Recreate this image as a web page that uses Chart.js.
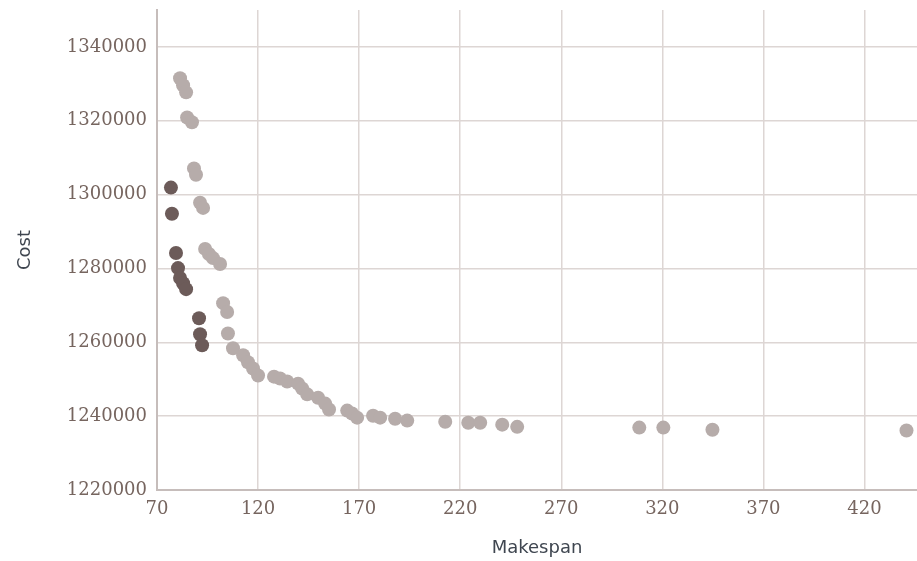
<!DOCTYPE html>
<html>
<head>
<meta charset="utf-8">
<script src="https://cdn.jsdelivr.net/npm/chart.js@4/dist/chart.umd.min.js"></script>
<style>
  html, body { margin: 0; padding: 0; background: #fff; }
  #wrap { width: 917px; height: 561px; }
</style>
</head>
<body>
<div id="wrap"><canvas id="paretoChart"></canvas></div>
<script>
// dark series
var makespanA = [76.9, 77.4, 79.4, 80.4, 81.4, 82.9, 84.4, 90.8, 91.3, 92.3];
var costA = [1301900, 1294800, 1284200, 1280100, 1277400, 1276000, 1274400, 1266500, 1262200, 1259200];

// light series
var makespanB = [81.4, 82.9, 84.4, 84.9, 87.3, 88.3, 89.3, 91.3, 92.8, 93.8, 95.7, 97.7, 101.2,
    102.7, 104.7, 105.1, 107.6, 112.6, 115.0, 117.5, 120.0, 127.9, 130.9, 134.4, 139.8, 141.8,
    144.3, 149.7, 153.2, 155.1, 164.1, 166.5, 169.0, 176.9, 180.4, 187.8, 193.8, 212.6, 224.0,
    229.9, 240.8, 248.2, 308.6, 320.5, 344.8, 440.8];
var costB = [1331500, 1329600, 1327700, 1320900, 1319600, 1307100, 1305400, 1297800, 1296400,
    1285300, 1283900, 1282800, 1281200, 1270600, 1268200, 1262400, 1258400, 1256500, 1254600,
    1252900, 1251000, 1250700, 1250200, 1249400, 1248800, 1247500, 1245900, 1245000, 1243400,
    1241800, 1241500, 1240700, 1239600, 1240100, 1239600, 1239300, 1238800, 1238500, 1238200,
    1238200, 1237700, 1237100, 1236900, 1236900, 1236300, 1236100];

var xTicks = [70, 120, 170, 220, 270, 320, 370, 420];
var yTicks = [1220000, 1240000, 1260000, 1280000, 1300000, 1320000, 1340000];

function toPoints(xs, ys) {
    var pts = [];
    for (var i = 0; i < xs.length; i++) {
        pts.push({ x: xs[i], y: ys[i] });
    }
    return pts;
}

var tickFont = { family: 'DejaVu Serif', size: 18 };
var titleFont = { family: 'DejaVu Sans', size: 18 };

var ctx = document.getElementById('paretoChart').getContext('2d');
new Chart(ctx, {
    type: 'scatter',
    data: {
        datasets: [
            {
                label: 'Light',
                data: toPoints(makespanB, costB),
                backgroundColor: '#b6acaa',
                borderWidth: 0,
                pointRadius: 7,
                pointHoverRadius: 7
            },
            {
                label: 'Dark',
                data: toPoints(makespanA, costA),
                backgroundColor: '#6c5b59',
                borderWidth: 0,
                pointRadius: 7,
                pointHoverRadius: 7
            }
        ]
    },
    options: {
        responsive: true,
        maintainAspectRatio: false,
        animation: false,
        layout: { autoPadding: false, padding: { top: 10, right: 0, left: 0, bottom: 0 } },
        plugins: {
            legend: { display: false },
            tooltip: { enabled: false }
        },
        scales: {
            x: {
                type: 'linear',
                min: 70,
                max: 446,
                afterBuildTicks: function(scale) {
                    scale.ticks = xTicks.map(function(v) { return { value: v }; });
                },
                afterFit: function(scale) {
                    scale.height = 71;
                    scale.paddingLeft = 0;
                    scale.paddingRight = 0;
                },
                ticks: {
                    font: tickFont, color: '#76655f', padding: 9, maxRotation: 0,
                    callback: function(v) { return String(v); }
                },
                grid: { color: '#ddd6d4', lineWidth: 1.5, drawTicks: false },
                border: { color: '#c6bdbb', width: 2 },
                title: {
                    display: true, text: 'Makespan', font: titleFont, color: '#3f4650',
                    padding: { top: 10, bottom: 2 }
                }
            },
            y: {
                type: 'linear',
                min: 1220000,
                max: 1350000,
                afterBuildTicks: function(scale) {
                    scale.ticks = yTicks.map(function(v) { return { value: v }; });
                },
                afterFit: function(scale) {
                    scale.width = 157;
                    scale.paddingTop = 0;
                    scale.paddingBottom = 0;
                },
                ticks: {
                    font: tickFont, color: '#76655f', padding: 10,
                    callback: function(v) { return String(v); }
                },
                grid: { color: '#ddd6d4', lineWidth: 1.5, drawTicks: false },
                border: { color: '#c6bdbb', width: 2 },
                title: {
                    display: true, text: 'Cost', font: titleFont, color: '#3f4650',
                    padding: { top: 15, bottom: 4 }
                }
            }
        }
    }
});
</script>
</body>
</html>
